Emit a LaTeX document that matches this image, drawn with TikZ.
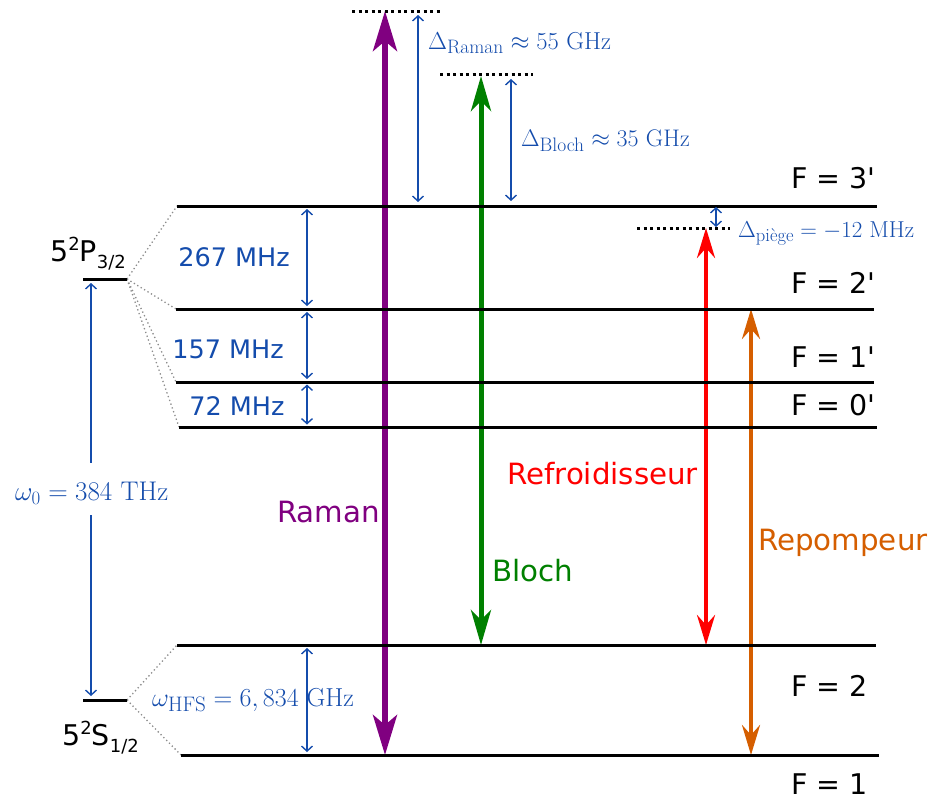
\RequirePackage{fix-cm}
\documentclass[tikz,border=0pt]{standalone}
\usepackage{amsmath}
\usepackage{fontspec}
\newfontfamily\dejavu{DejaVu Sans}
\usetikzlibrary{arrows.meta}
\definecolor{myblue}{RGB}{20,76,172}
\definecolor{myorange}{RGB}{213,94,0}
\definecolor{mypurple}{RGB}{128,0,128}
\definecolor{mygreen}{RGB}{0,128,0}
\definecolor{myred}{RGB}{255,0,0}
\newcommand\subtxt[2]{\text{\fontsize{#1}{#1}\selectfont #2}}
\tikzset{
  lev/.style={line width=3pt, black},
  virt/.style={line width=3pt, black, dash pattern=on 3pt off 3.5pt},
  link/.style={line width=1.3pt, black!45, dash pattern=on 1.3pt off 2.7pt},
  gap/.style={myblue, line width=1.4pt,
    {Straight Barb[length=5pt,width=11pt]}-{Straight Barb[length=5pt,width=11pt]},
    shorten <=#1, shorten >=#1},
  gap/.default=3pt,
  beam/.style args={#1/#2/#3/#4}{#1, line width=#2,
    {Stealth[length=#3,width=#4,inset=10pt]}-{Stealth[length=#3,width=#4,inset=10pt]}},
  lbl/.style={inner sep=0pt, anchor=base west, font=\dejavu\fontsize{28.5}{30}\selectfont},
  big/.style={font=\dejavu\fontsize{29.3}{31}\selectfont},
  mhz/.style={inner sep=0pt, myblue, font=\dejavu\fontsize{25.5}{27}\selectfont},
  mth/.style={inner sep=0pt, anchor=base west, myblue, font=\rmfamily\fontsize{#1}{#1}\selectfont},
}
\begin{document}
\begin{tikzpicture}[x=1pt,y=-1pt]
\useasboundingbox (0,0) rectangle (933,798);
% coordinates of levels
\coordinate (Pl) at (83,279);  \coordinate (P) at (127,279);
\coordinate (Sl) at (83,700);  \coordinate (S) at (127,700);
\coordinate (a3l) at (177,206); \coordinate (a3r) at (877,206);
\coordinate (a2l) at (176,309); \coordinate (a2r) at (874,309);
\coordinate (a1l) at (176,382); \coordinate (a1r) at (874,382);
\coordinate (a0l) at (179,427); \coordinate (a0r) at (877,427);
\coordinate (g2l) at (177,645); \coordinate (g2r) at (876,645);
\coordinate (g1l) at (181,755); \coordinate (g1r) at (879,755);
\coordinate (vRl) at (352,11);  \coordinate (vRr) at (443,11);
\coordinate (vBl) at (440,74);  \coordinate (vBr) at (533,74);
\coordinate (vPl) at (637,228); \coordinate (vPr) at (730,228);
% beam end points
\coordinate (ramT) at (385,11);  \coordinate (ramB) at (385,755);
\coordinate (bloT) at (481,76);  \coordinate (bloB) at (481,645);
\coordinate (refT) at (706,228); \coordinate (refB) at (706,645);
\coordinate (repT) at (751,309); \coordinate (repB) at (751,755);
% gap arrow end points
\coordinate (dRT) at (418,11);  \coordinate (dRB) at (418,206);
\coordinate (dBT) at (511,74);  \coordinate (dBB) at (511,206);
\coordinate (dPT) at (716,206); \coordinate (dPB) at (716,228);
\coordinate (h3) at (307,206); \coordinate (h2) at (307,309);
\coordinate (h1) at (307,382); \coordinate (h0) at (307,427);
\coordinate (hg2) at (307,645); \coordinate (hg1) at (307,755);
\coordinate (wT) at (91,279); \coordinate (wB) at (91,700);

% beams
\draw[beam=mypurple/5.5pt/40pt/24pt] (ramT) -- (ramB);
\draw[beam=mygreen/5pt/35pt/20pt] (bloT) -- (bloB);
\draw[beam=myred/4pt/30pt/18pt] (refT) -- (refB);
\draw[beam=myorange/4pt/30pt/18pt] (repT) -- (repB);

% gray links
\draw[link] (P) -- (a3l);
\draw[link] (P) -- (a2l);
\draw[link] (P) -- (a1l);
\draw[link] (P) -- (a0l);
\draw[link] (S) -- (g2l);
\draw[link] (S) -- (g1l);

% levels
\draw[lev] (Pl) -- (P);
\draw[lev] (Sl) -- (S);
\draw[lev] (a3l) -- (a3r);
\draw[lev] (a2l) -- (a2r);
\draw[lev] (a1l) -- (a1r);
\draw[lev] (a0l) -- (a0r);
\draw[lev] (g2l) -- (g2r);
\draw[lev] (g1l) -- (g1r);
\draw[virt] (vRl) -- (vRr);
\draw[virt] (vBl) -- (vBr);
\draw[virt] (vPl) -- (vPr);

% gap arrows
\draw[gap=4pt] (dRT) -- (dRB);
\draw[gap=5pt] (dBT) -- (dBB);
\draw[gap=1pt] (dPT) -- (dPB);
\draw[gap] (h3) -- (h2);
\draw[gap] (h2) -- (h1);
\draw[gap=2.5pt] (h1) -- (h0);
\draw[gap] (hg2) -- (hg1);
\draw[gap=4pt] (wT) -- (wB);

% labels
\node[lbl] (F3) at (791,188) {F = 3\textquotesingle};
\node[lbl] (F2p) at (791,293) {F = 2\textquotesingle};
\node[lbl] (F1p) at (791,367) {F = 1\textquotesingle};
\node[lbl] (F0p) at (791,415) {F = 0\textquotesingle};
\node[lbl] (F2) at (791,696) {F = 2};
\node[lbl] (F1) at (791,794) {F = 1};
\node[lbl] (Plab) at (50,261) {5\raisebox{11pt}{\fontsize{18}{18}\selectfont 2}P\raisebox{-7pt}{\fontsize{18}{18}\selectfont 3/2}};
\node[lbl] (Slab) at (62,745) {5\raisebox{11pt}{\fontsize{18}{18}\selectfont 2}S\raisebox{-7pt}{\fontsize{18}{18}\selectfont 1/2}};
\node[mhz] (m267) at (234,257) {267 MHz};
\node[mhz] (m157) at (228,349) {157 MHz};
\node[mhz] (m72) at (237,406) {72 MHz};
\node[lbl, big, mypurple] (lRam) at (277,522) {Raman};
\node[lbl, big, mygreen] (lBlo) at (492,581) {Bloch};
\node[lbl, big, myred] (lRef) at (507,484) {Refroidisseur};
\node[lbl, big, myorange] (lRep) at (758,550) {Repompeur};
\node[mth=24.5] (dRam) at (428,49) {$\Delta_{\subtxt{19.5}{Raman}} \approx 55\ \text{GHz}$};
\node[mth=24] (dBlo) at (521,146) {$\Delta_{\subtxt{19.5}{Bloch}} \approx 35\ \text{GHz}$};
\node[mth=23] (dPie) at (738,237) {$\Delta_{\subtxt{18.5}{piège}} = -12\ \text{MHz}$};
\node[mth=26] (wHFS) at (152,706) {$\omega_{\subtxt{21}{HFS}} = 6,834\ \text{GHz}$};
\node[mth=27, fill=white, inner xsep=2pt, text height=37pt, text depth=15pt] (w0) at (13,500) {$\omega_0 = 384\ \text{THz}$};
\end{tikzpicture}
\end{document}
